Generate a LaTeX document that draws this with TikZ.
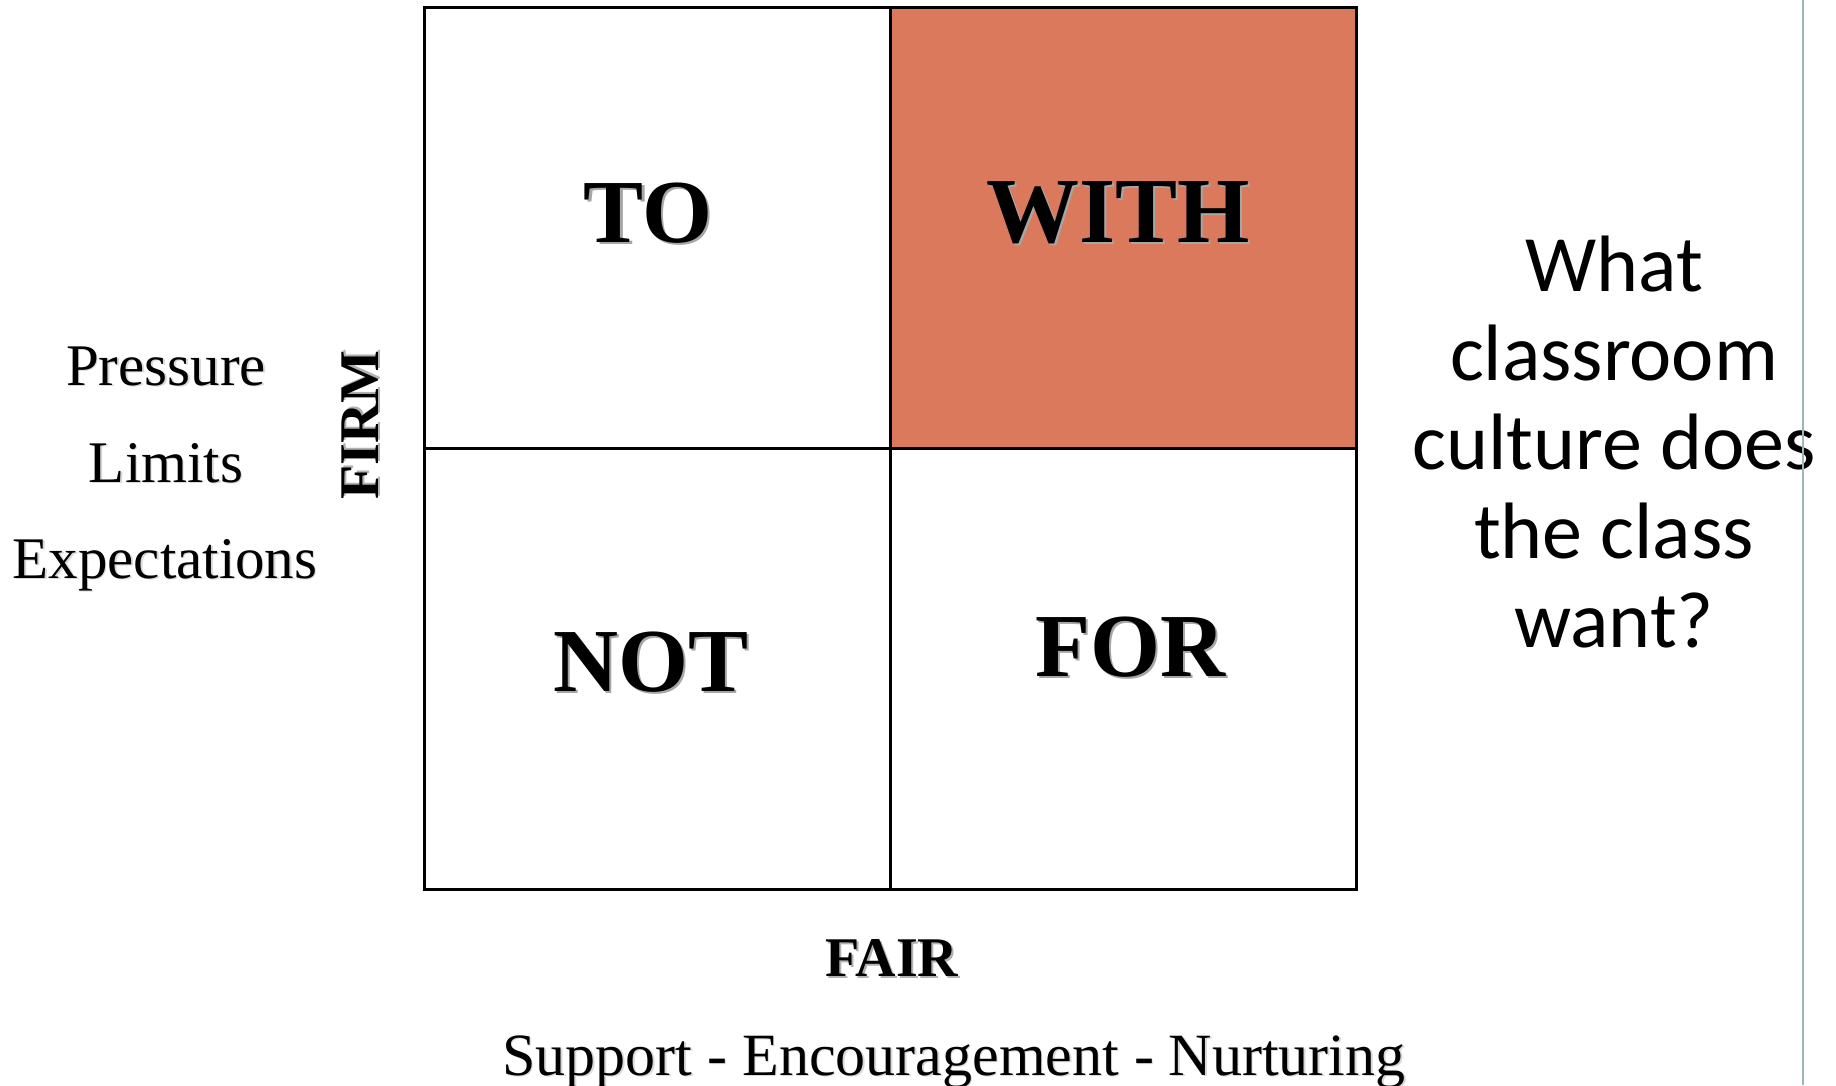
\documentclass[tikz,border=0pt]{standalone}
\usepackage{fontspec}
\setmainfont{Liberation Serif}
\newfontfamily\qfont{Carlito}
\definecolor{cellfill}{RGB}{219,121,93}
\definecolor{rulecol}{RGB}{160,182,182}
% text with a soft drop shadow below-right
\newcommand{\shadowed}[3][2.5pt]{\makebox[0pt][l]{\hspace*{#1}\raisebox{-#1}{\textcolor{black!#2}{#3}}}#3}
\tikzset{
  cell/.style={draw=black, line width=3pt, minimum width=466pt, minimum height=441pt, inner sep=0pt},
  quad/.style={font=\bfseries\fontsize{90}{100}\selectfont, anchor=base, inner sep=0pt},
  axis/.style={font=\bfseries\fontsize{56}{64}\selectfont, inner sep=0pt},
  side/.style={font=\fontsize{59}{66}\selectfont, anchor=base, inner sep=0pt},
  question/.style={font=\qfont\fontsize{80}{89}\selectfont, align=center, anchor=north, inner sep=0pt}
}
\begin{document}
\begin{tikzpicture}[x=1pt,y=-1pt]
\useasboundingbox (0,0) rectangle (1836,1085);
\fill[white] (0,0) rectangle (1836,1085);

% the four quadrants
\node[cell] (tl) at (657,227.5) {};
\node[cell, fill=cellfill] (tr) at (1123,227.5) {};
\node[cell] (bl) at (657,669) {};
\node[cell] (br) at (1123,669) {};

% quadrant words
\node[quad] (to)   at (648,242)  {\shadowed{35}{TO}};
\node[quad, font=\bfseries\fontsize{93}{100}\selectfont] (with) at (1118,242) {\shadowed{35}{WITH}};
\node[quad] (not)  at (651,691)  {\shadowed{35}{NOT}};
\node[quad] (for)  at (1130,676) {\shadowed{35}{FOR}};

% vertical axis
\node[axis, rotate=90] (firm) at (361,425) {\shadowed[2pt]{30}{FIRM}};
\node[side] (pressure) at (166,385) {\shadowed[1.5pt]{15}{Pressure}};
\node[side] (limits)   at (166,482) {\shadowed[1.5pt]{15}{Limits}};
\node[side] (expect)   at (165,578) {\shadowed[1.5pt]{15}{Expectations}};

% horizontal axis
\node[axis, anchor=base] (fair) at (892,976) {\shadowed[2pt]{30}{FAIR}};
\node[side, font=\fontsize{60}{66}\selectfont] (support) at (954,1075) {\shadowed[1.5pt]{15}{Support - Encouragement - Nurturing}};

% question on the right
\node[question] (ask) at (1614,236) {What\\classroom\\culture does\\the class\\want?};

% thin rule at the right edge
\draw[rulecol, line width=2pt] (1803,0) coordinate (rtop) -- (1803,1085) coordinate (rbot);
\end{tikzpicture}
\end{document}
